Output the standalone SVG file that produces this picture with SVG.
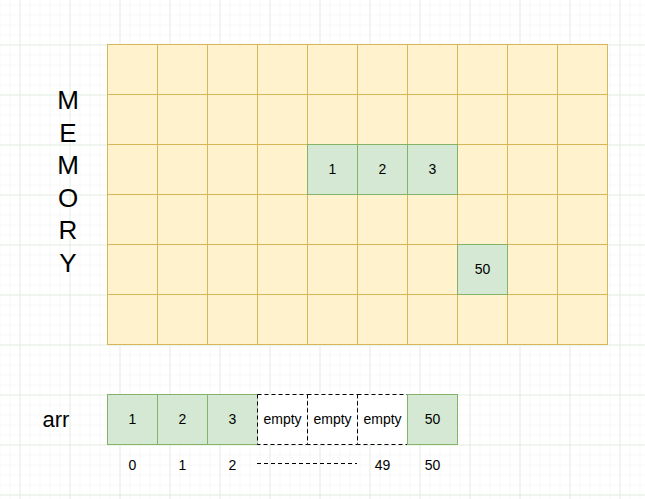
<svg xmlns="http://www.w3.org/2000/svg" width="645" height="499" viewBox="0 0 645 499">
<style>
text{font-family:"Liberation Sans",Arial,sans-serif;fill:#000;text-anchor:middle}
.mem{fill:#fff2cc;stroke:#d6b656;stroke-width:1}
.grn{fill:#d5e8d4;stroke:#82b366;stroke-width:1}
.emp{fill:#fff;stroke:#000;stroke-width:1;stroke-dasharray:4 3}
.t14{font-size:14px}
.big{font-size:26px}
</style>
<defs>
<pattern id="minor" x="9.5" y="4.5" width="10" height="10" patternUnits="userSpaceOnUse">
<path d="M0 0H10M0 0V10" fill="none" stroke="#eff4ee" stroke-width="1"/>
</pattern>
<pattern id="major" x="19.5" y="44.5" width="50" height="50" patternUnits="userSpaceOnUse">
<path d="M0 0H50M0 0V50" fill="none" stroke="#cde6ca" stroke-width="1"/>
</pattern>
</defs>
<rect width="645" height="499" fill="#fff"/>
<rect width="645" height="499" fill="url(#minor)"/>
<rect width="645" height="499" fill="url(#major)"/>

<g id="memory">
<rect class="mem" x="107.5" y="44.5" width="500" height="300"/>
<path d="M157.5 44.5V344.5M207.5 44.5V344.5M257.5 44.5V344.5M307.5 44.5V344.5M357.5 44.5V344.5M407.5 44.5V344.5M457.5 44.5V344.5M507.5 44.5V344.5M557.5 44.5V344.5M107.5 94.5H607.5M107.5 144.5H607.5M107.5 194.5H607.5M107.5 244.5H607.5M107.5 294.5H607.5" fill="none" stroke="#d6b656" stroke-width="1"/>
</g>
<g id="mem1"><rect class="grn" x="307.5" y="144.5" width="50" height="50"/><text class="t14" x="332.5" y="174">1</text></g>
<g id="mem2"><rect class="grn" x="357.5" y="144.5" width="50" height="50"/><text class="t14" x="382.5" y="174">2</text></g>
<g id="mem3"><rect class="grn" x="407.5" y="144.5" width="50" height="50"/><text class="t14" x="432.5" y="174">3</text></g>
<g id="mem50"><rect class="grn" x="457.5" y="244.5" width="50" height="50"/><text class="t14" x="482.5" y="274">50</text></g>

<g id="memory-label">
<text class="big" x="68" y="109">M</text>
<text class="big" x="68" y="141.6">E</text>
<text class="big" x="68" y="174.2">M</text>
<text class="big" x="68" y="206.8">O</text>
<text class="big" x="68" y="239.4">R</text>
<text class="big" x="68" y="272">Y</text>
</g>

<g id="arr-label"><text x="56" y="427" style="font-size:22px">arr</text></g>

<g id="arr0"><rect class="grn" x="107.5" y="394.5" width="50" height="50"/><text class="t14" x="132.5" y="424">1</text></g>
<g id="arr1"><rect class="grn" x="157.5" y="394.5" width="50" height="50"/><text class="t14" x="182.5" y="424">2</text></g>
<g id="arr2"><rect class="grn" x="207.5" y="394.5" width="50" height="50"/><text class="t14" x="232.5" y="424">3</text></g>
<g id="arr3"><rect class="emp" x="257.5" y="394.5" width="50" height="50"/><text class="t14" x="282.5" y="424">empty</text></g>
<g id="arr4"><rect class="emp" x="307.5" y="394.5" width="50" height="50"/><text class="t14" x="332.5" y="424">empty</text></g>
<g id="arr5"><rect class="emp" x="357.5" y="394.5" width="50" height="50"/><text class="t14" x="382.5" y="424">empty</text></g>
<g id="arr50"><rect class="grn" x="407.5" y="394.5" width="50" height="50"/><text class="t14" x="432.5" y="424">50</text></g>

<g id="indices">
<text class="t14" x="132.5" y="469.5">0</text>
<text class="t14" x="182.5" y="469.5">1</text>
<text class="t14" x="232.5" y="469.5">2</text>
<text class="t14" x="382.5" y="469.5">49</text>
<text class="t14" x="432.5" y="469.5">50</text>
</g>

<g id="connectors">
<path d="M257 463.5H357" fill="none" stroke="#000" stroke-width="1" stroke-dasharray="4 3"/>
</g>
</svg>
